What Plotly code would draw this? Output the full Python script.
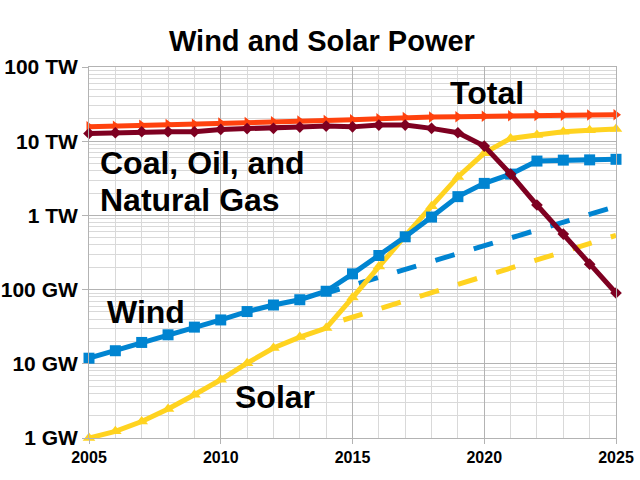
import plotly.graph_objects as go

# ---- data (values in GW) ----
years = list(range(2005, 2026))

total = [15600, 15900, 16400, 16800, 16900, 17600, 17900, 18300, 18700, 19000,
         19400, 20000, 20800, 21200, 21300, 21700, 22000, 22300, 22400, 22600, 22700]

fossil = [12700, 13000, 13400, 13400, 13400, 14400, 14800, 14900, 15500, 16000,
          15600, 16500, 16500, 14900, 13000, 8600, 3600, 1380, 560, 220, 90]

wind = [11.9, 15, 19.4, 24.6, 31.2, 39, 50.6, 62, 73, 95,
        163, 288, 515, 950, 1790, 2700, 3600, 5400, 5560, 5600, 5700]

solar = [1.0, 1.23, 1.67, 2.46, 3.83, 6.1, 10.2, 16.3, 22.9, 30.3,
         78, 205, 530, 1330, 3300, 6900, 10900, 12100, 13400, 14100, 14600]

proj_years = [2014, 2025]
wind_proj = [90, 1320]
solar_proj = [33, 538]

ytick_vals = [1, 10, 100, 1000, 10000, 100000]
ytick_text = ["1 GW", "10 GW", "100 GW", "1 TW", "10 TW", "100 TW"]
xtick_vals = [2005, 2010, 2015, 2020, 2025]

BLUE = "#0084D1"
YELLOW = "#FFD320"
DARKRED = "#7E0021"
ORANGE = "#FF420E"
FONT = "Liberation Sans, Arial, sans-serif"

fig = go.Figure()

fig.add_trace(go.Scatter(x=proj_years, y=wind_proj, mode="lines",
                         line=dict(color=BLUE, width=5, dash="14px,20px,6px,0px"),
                         cliponaxis=False, showlegend=False))
fig.add_trace(go.Scatter(x=proj_years, y=solar_proj, mode="lines",
                         line=dict(color=YELLOW, width=5, dash="0px,18px,20px,2px"),
                         cliponaxis=False, showlegend=False))

fig.add_trace(go.Scatter(x=years, y=total, mode="lines+markers",
                         line=dict(color=ORANGE, width=5),
                         marker=dict(symbol="triangle-right", size=10, color=ORANGE),
                         cliponaxis=False, showlegend=False))
fig.add_trace(go.Scatter(x=years, y=solar, mode="lines+markers",
                         line=dict(color=YELLOW, width=5),
                         marker=dict(symbol="triangle-up", size=11, color=YELLOW),
                         cliponaxis=False, showlegend=False))
fig.add_trace(go.Scatter(x=years, y=wind, mode="lines+markers",
                         line=dict(color=BLUE, width=5),
                         marker=dict(symbol="square", size=11, color=BLUE),
                         cliponaxis=False, showlegend=False))
fig.add_trace(go.Scatter(x=years, y=fossil, mode="lines+markers",
                         line=dict(color=DARKRED, width=5),
                         marker=dict(symbol="diamond", size=9, color=DARKRED),
                         cliponaxis=False, showlegend=False))

minor_y = [m * 10 ** k for k in range(0, 5) for m in range(2, 10)]

fig.update_layout(
    width=640, height=480,
    margin=dict(l=89, r=24, t=67, b=42, autoexpand=False),
    paper_bgcolor="white", plot_bgcolor="white",
    font=dict(family=FONT, color="black"),
    title=dict(text="Wind and Solar Power", x=0.503, xanchor="center",
               y=1 - 40.5 / 480, yanchor="middle",
               xref="container", yref="container",
               font=dict(size=29, family=FONT, weight="bold", color="black")),
    xaxis=dict(range=[2005, 2025], tickvals=xtick_vals, automargin=False,
               ticks="outside", ticklen=5, tickcolor="#b3b3b3",
               tickfont=dict(size=16, family=FONT, weight="bold", color="black"),
               showgrid=True, gridcolor="#b3b3b3", gridwidth=1,
               minor=dict(dtick=1, showgrid=True, gridcolor="#d9d9d9", ticks=""),
               showline=True, linecolor="#b3b3b3", mirror=True, zeroline=False),
    yaxis=dict(type="log", range=[0, 5], tickvals=ytick_vals, ticktext=ytick_text,
               automargin=False,
               ticks="outside", ticklen=6, tickcolor="#b3b3b3",
               tickfont=dict(size=21, family=FONT, weight="bold", color="black"),
               showgrid=True, gridcolor="#b3b3b3", gridwidth=1,
               minor=dict(tickvals=minor_y, showgrid=True, gridcolor="#d9d9d9", ticks=""),
               showline=True, linecolor="#b3b3b3", mirror=True, zeroline=False),
)

ann_font = dict(size=32, family=FONT, weight="bold", color="black")
labels = [
    ("Total", 2020.1, 4.643, "center"),
    ("Coal, Oil, and", 2005.34, 3.705, "left"),
    ("Natural Gas", 2005.34, 3.207, "left"),
    ("Wind", 2005.61, 1.70, "left"),
    ("Solar", 2010.46, 0.556, "left"),
]
for txt, x, y, xa in labels:
    fig.add_annotation(text=txt, x=x, y=y, xref="x", yref="y", showarrow=False,
                       xanchor=xa, yanchor="middle", font=ann_font)

fig.write_html("out.html")
